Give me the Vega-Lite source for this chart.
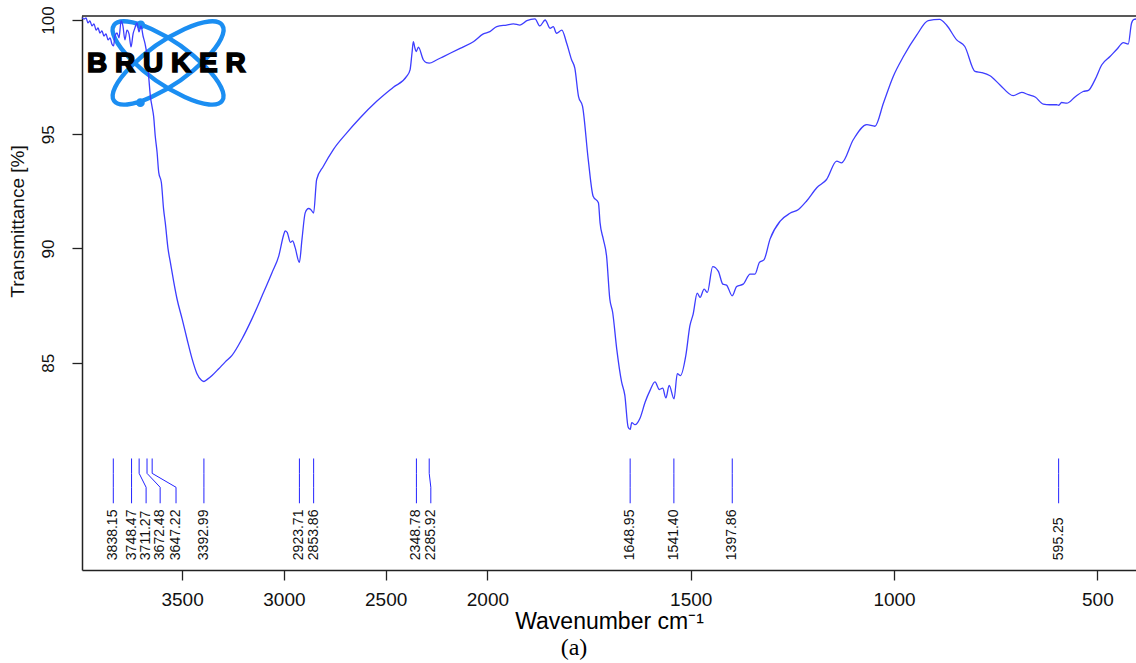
{
  "$schema": "https://vega.github.io/schema/vega-lite/v6.json",
  "width": 1054,
  "height": 554,
  "autosize": {"type": "none"},
  "padding": {"left": 82, "top": 16, "right": 0, "bottom": 93},
  "background": "white",
  "config": {"view": {"stroke": null}, "font": "Liberation Sans"},
  "title": {"text": "(a)", "orient": "bottom", "anchor": "middle", "dx": -35, "offset": 3, "font": "Liberation Serif", "fontSize": 24, "fontWeight": "normal", "color": "#000000"},
  "datasets": {
    "spectrum": [
      {"wn": 3992, "t": 100.1}, {"wn": 3982, "t": 100.04}, {"wn": 3972, "t": 100.09}, {"wn": 3963, "t": 99.87},
      {"wn": 3953, "t": 99.96}, {"wn": 3943, "t": 99.74}, {"wn": 3933, "t": 99.83}, {"wn": 3923, "t": 99.56},
      {"wn": 3913, "t": 99.65}, {"wn": 3904, "t": 99.43}, {"wn": 3894, "t": 99.52}, {"wn": 3884, "t": 99.3},
      {"wn": 3874, "t": 99.39}, {"wn": 3864, "t": 99.13}, {"wn": 3854, "t": 99.22}, {"wn": 3845, "t": 98.95},
      {"wn": 3837, "t": 98.87}, {"wn": 3830, "t": 99.3}, {"wn": 3820, "t": 99.43}, {"wn": 3810, "t": 99.22},
      {"wn": 3800, "t": 99.96}, {"wn": 3791, "t": 99.74}, {"wn": 3781, "t": 99.13}, {"wn": 3771, "t": 99.56},
      {"wn": 3761, "t": 99.39}, {"wn": 3751, "t": 98.82}, {"wn": 3741, "t": 99.39}, {"wn": 3732, "t": 99.65},
      {"wn": 3722, "t": 99.87}, {"wn": 3712, "t": 99.48}, {"wn": 3702, "t": 99.74}, {"wn": 3692, "t": 99.3},
      {"wn": 3682, "t": 98.95}, {"wn": 3673, "t": 98.47}, {"wn": 3663, "t": 97.38}, {"wn": 3656, "t": 96.66},
      {"wn": 3648, "t": 96.22}, {"wn": 3640, "t": 95.78}, {"wn": 3632, "t": 94.91}, {"wn": 3623, "t": 94.2},
      {"wn": 3615, "t": 93.33}, {"wn": 3602, "t": 92.89}, {"wn": 3591, "t": 91.71}, {"wn": 3583, "t": 91.14},
      {"wn": 3569, "t": 89.97}, {"wn": 3558, "t": 89.4}, {"wn": 3541, "t": 88.53}, {"wn": 3525, "t": 87.79},
      {"wn": 3500, "t": 86.92}, {"wn": 3476, "t": 86.04}, {"wn": 3451, "t": 85.17}, {"wn": 3427, "t": 84.52},
      {"wn": 3405, "t": 84.23}, {"wn": 3393, "t": 84.18}, {"wn": 3378, "t": 84.26}, {"wn": 3353, "t": 84.44},
      {"wn": 3320, "t": 84.74}, {"wn": 3288, "t": 85.04}, {"wn": 3255, "t": 85.32}, {"wn": 3206, "t": 86.04},
      {"wn": 3157, "t": 86.92}, {"wn": 3107, "t": 87.93}, {"wn": 3058, "t": 88.95}, {"wn": 3025, "t": 89.68},
      {"wn": 3001, "t": 90.6}, {"wn": 2994, "t": 90.77}, {"wn": 2984, "t": 90.71}, {"wn": 2968, "t": 90.27},
      {"wn": 2957, "t": 90.33}, {"wn": 2945, "t": 90.05}, {"wn": 2924, "t": 89.39}, {"wn": 2911, "t": 90.41},
      {"wn": 2895, "t": 91.57}, {"wn": 2879, "t": 91.75}, {"wn": 2867, "t": 91.7}, {"wn": 2854, "t": 91.55},
      {"wn": 2839, "t": 93.02}, {"wn": 2806, "t": 93.6}, {"wn": 2757, "t": 94.33}, {"wn": 2691, "t": 95.06},
      {"wn": 2626, "t": 95.71}, {"wn": 2544, "t": 96.44}, {"wn": 2462, "t": 97.06}, {"wn": 2397, "t": 97.53},
      {"wn": 2380, "t": 97.82}, {"wn": 2370, "t": 98.6}, {"wn": 2364, "t": 99.05}, {"wn": 2357, "t": 98.8},
      {"wn": 2350, "t": 98.62}, {"wn": 2339, "t": 98.81}, {"wn": 2315, "t": 98.26}, {"wn": 2300, "t": 98.13},
      {"wn": 2286, "t": 98.11}, {"wn": 2250, "t": 98.25}, {"wn": 2216, "t": 98.4}, {"wn": 2134, "t": 98.76},
      {"wn": 2069, "t": 99.05}, {"wn": 2020, "t": 99.39}, {"wn": 1994, "t": 99.49}, {"wn": 1977, "t": 99.71},
      {"wn": 1953, "t": 99.78}, {"wn": 1936, "t": 99.83}, {"wn": 1920, "t": 99.78}, {"wn": 1903, "t": 99.97},
      {"wn": 1883, "t": 100.05}, {"wn": 1871, "t": 99.74}, {"wn": 1858, "t": 100.0}, {"wn": 1846, "t": 99.64},
      {"wn": 1838, "t": 99.71}, {"wn": 1830, "t": 99.42}, {"wn": 1817, "t": 99.56}, {"wn": 1805, "t": 98.98},
      {"wn": 1793, "t": 98.26}, {"wn": 1785, "t": 97.89}, {"wn": 1776, "t": 96.66}, {"wn": 1766, "t": 96.22},
      {"wn": 1752, "t": 93.89}, {"wn": 1740, "t": 92.29}, {"wn": 1727, "t": 92.0}, {"wn": 1723, "t": 91.13},
      {"wn": 1715, "t": 90.41}, {"wn": 1707, "t": 89.68}, {"wn": 1699, "t": 87.79}, {"wn": 1692, "t": 87.21},
      {"wn": 1682, "t": 85.61}, {"wn": 1670, "t": 84.16}, {"wn": 1662, "t": 83.57}, {"wn": 1654, "t": 82.19},
      {"wn": 1649, "t": 82.08}, {"wn": 1645, "t": 82.38}, {"wn": 1637, "t": 82.29}, {"wn": 1625, "t": 82.56},
      {"wn": 1612, "t": 83.28}, {"wn": 1600, "t": 83.79}, {"wn": 1588, "t": 84.16}, {"wn": 1577, "t": 83.83},
      {"wn": 1569, "t": 83.89}, {"wn": 1561, "t": 83.46}, {"wn": 1553, "t": 84.01}, {"wn": 1541, "t": 83.42},
      {"wn": 1533, "t": 84.52}, {"wn": 1525, "t": 84.44}, {"wn": 1512, "t": 85.32}, {"wn": 1502, "t": 86.62},
      {"wn": 1494, "t": 87.13}, {"wn": 1484, "t": 88.05}, {"wn": 1477, "t": 87.86}, {"wn": 1467, "t": 88.22},
      {"wn": 1459, "t": 88.08}, {"wn": 1446, "t": 89.21}, {"wn": 1432, "t": 89.0}, {"wn": 1421, "t": 88.44},
      {"wn": 1412, "t": 88.4}, {"wn": 1398, "t": 87.93}, {"wn": 1387, "t": 88.34}, {"wn": 1371, "t": 88.44},
      {"wn": 1354, "t": 88.88}, {"wn": 1342, "t": 88.88}, {"wn": 1331, "t": 89.39}, {"wn": 1320, "t": 89.5},
      {"wn": 1305, "t": 90.41}, {"wn": 1280, "t": 91.2}, {"wn": 1256, "t": 91.54}, {"wn": 1235, "t": 91.71},
      {"wn": 1215, "t": 92.08}, {"wn": 1190, "t": 92.66}, {"wn": 1166, "t": 93.02}, {"wn": 1141, "t": 93.82},
      {"wn": 1129, "t": 93.75}, {"wn": 1100, "t": 94.77}, {"wn": 1067, "t": 95.42}, {"wn": 1047, "t": 95.35},
      {"wn": 1026, "t": 96.37}, {"wn": 1002, "t": 97.53}, {"wn": 977, "t": 98.4}, {"wn": 944, "t": 99.35},
      {"wn": 916, "t": 99.97}, {"wn": 888, "t": 100.03}, {"wn": 871, "t": 99.78}, {"wn": 846, "t": 99.13},
      {"wn": 826, "t": 98.84}, {"wn": 801, "t": 97.75}, {"wn": 785, "t": 97.7}, {"wn": 764, "t": 97.56},
      {"wn": 740, "t": 97.17}, {"wn": 707, "t": 96.69}, {"wn": 686, "t": 96.83}, {"wn": 670, "t": 96.73},
      {"wn": 653, "t": 96.63}, {"wn": 633, "t": 96.32}, {"wn": 617, "t": 96.29}, {"wn": 600, "t": 96.29},
      {"wn": 595, "t": 96.27}, {"wn": 588, "t": 96.39}, {"wn": 575, "t": 96.36}, {"wn": 555, "t": 96.63},
      {"wn": 535, "t": 96.87}, {"wn": 522, "t": 96.92}, {"wn": 506, "t": 97.38}, {"wn": 489, "t": 98.04},
      {"wn": 469, "t": 98.4}, {"wn": 452, "t": 98.72}, {"wn": 436, "t": 99.01}, {"wn": 424, "t": 98.95},
      {"wn": 416, "t": 99.86}, {"wn": 410, "t": 100.03}, {"wn": 400, "t": 100.05}
    ],
    "peaks": [
      {"wn": 3838.15, "labelWn": 3838.15},
      {"wn": 3748.47, "labelWn": 3748.47},
      {"wn": 3711.27, "labelWn": 3677},
      {"wn": 3672.48, "labelWn": 3608},
      {"wn": 3647.22, "labelWn": 3530},
      {"wn": 3392.99, "labelWn": 3392.99},
      {"wn": 2923.71, "labelWn": 2923.71},
      {"wn": 2853.86, "labelWn": 2853.86},
      {"wn": 2348.78, "labelWn": 2348.78},
      {"wn": 2285.92, "labelWn": 2278},
      {"wn": 1648.95, "labelWn": 1648.95},
      {"wn": 1541.40, "labelWn": 1541.40},
      {"wn": 1397.86, "labelWn": 1397.86},
      {"wn": 595.25, "labelWn": 595.25}
    ]
  },
  "layer": [
    {
      "data": {"values": [{"ring": "A"}, {"ring": "B"}]},
      "mark": {"type": "point", "filled": false, "size": 4, "strokeWidth": 4.4, "color": "#1b8ef2", "opacity": 1},
      "encoding": {
        "x": {"datum": 3569},
        "y": {"datum": 98.12},
        "shape": {
          "field": "ring",
          "type": "nominal",
          "legend": null,
          "scale": {
            "domain": ["A", "B"],
            "range": [
              "M -54.06 -37.86 A 66 21 35 1 1 54.06 37.86 A 66 21 35 1 1 -54.06 -37.86 Z M -29.5 -38 A 2.2 2.2 0 1 1 -25.1 -38 A 2.2 2.2 0 1 1 -29.5 -38 Z",
              "M -54.06 37.86 A 66 21 -35 1 1 54.06 -37.86 A 66 21 -35 1 1 -54.06 37.86 Z M -29.9 39.7 A 2.2 2.2 0 1 1 -25.5 39.7 A 2.2 2.2 0 1 1 -29.9 39.7 Z"
            ]
          }
        }
      }
    },
    {
      "data": {"name": "spectrum"},
      "mark": {"type": "line", "color": "#3d3dff", "strokeWidth": 1.3, "interpolate": "monotone", "clip": true},
      "encoding": {
        "x": {
          "field": "wn",
          "type": "quantitative",
          "scale": {"domain": [3992, 2000, 405], "range": [0, 405.4, 1054], "nice": false, "zero": false},
          "axis": {
            "title": "Wavenumber cm⁻¹",
            "values": [3500, 3000, 2500, 2000, 1500, 1000, 500],
            "format": "d",
            "grid": false,
            "labelOverlap": false,
            "labelFlush": false,
            "tickSize": 10,
            "tickColor": "#222222",
            "domainColor": "#222222",
            "domainWidth": 1.5,
            "tickWidth": 1.3,
            "labelFontSize": 19,
            "labelColor": "#111111",
            "labelPadding": 10,
            "titleFontSize": 23,
            "titleFontWeight": "normal",
            "titleColor": "#000000",
            "titlePadding": 1
          }
        },
        "y": {
          "field": "t",
          "type": "quantitative",
          "scale": {"domain": [75.93, 100.175], "nice": false, "zero": false},
          "axis": {
            "title": "Transmittance [%]",
            "values": [85, 90, 95, 100],
            "grid": false,
            "labelAngle": 270,
            "labelAlign": "center",
            "labelBaseline": "bottom",
            "tickSize": 10,
            "tickColor": "#222222",
            "domainColor": "#222222",
            "domainWidth": 1.5,
            "tickWidth": 1.3,
            "labelFontSize": 17,
            "labelColor": "#111111",
            "labelPadding": 15,
            "titleFontSize": 19,
            "titleFontWeight": "normal",
            "titleColor": "#111111",
            "titlePadding": 12,
            "titleY": 205
          }
        }
      }
    },
    {
      "data": {"values": [{"brand": "B R U K E R"}]},
      "mark": {"type": "text", "font": "Liberation Sans", "fontWeight": "bold", "fontSize": 28, "color": "#000000", "stroke": "#000000", "strokeWidth": 1.6, "align": "center", "baseline": "middle"},
      "encoding": {
        "x": {"datum": 3577},
        "y": {"datum": 98.08},
        "text": {"field": "brand"}
      }
    },
    {
      "data": {"values": [{"edge": "top"}]},
      "mark": {"type": "rule", "color": "#222222", "strokeWidth": 1.5},
      "encoding": {"y": {"datum": 100.175}}
    },
    {
      "data": {"name": "peaks"},
      "mark": {"type": "rule", "color": "#2323ff", "strokeWidth": 1},
      "encoding": {
        "x": {"field": "wn", "type": "quantitative"},
        "y": {"datum": 80.81},
        "y2": {"datum": 80.16}
      }
    },
    {
      "data": {"name": "peaks"},
      "mark": {"type": "rule", "color": "#2323ff", "strokeWidth": 1},
      "encoding": {
        "x": {"field": "wn", "type": "quantitative"},
        "x2": {"field": "labelWn"},
        "y": {"datum": 80.16},
        "y2": {"datum": 79.55}
      }
    },
    {
      "data": {"name": "peaks"},
      "mark": {"type": "rule", "color": "#2323ff", "strokeWidth": 1},
      "encoding": {
        "x": {"field": "labelWn", "type": "quantitative"},
        "y": {"datum": 79.55},
        "y2": {"datum": 78.85}
      }
    },
    {
      "data": {"name": "peaks"},
      "mark": {"type": "text", "angle": 270, "align": "left", "baseline": "middle", "fontSize": 14, "font": "Liberation Sans", "color": "#111111"},
      "encoding": {
        "x": {"field": "labelWn", "type": "quantitative"},
        "y": {"datum": 76.36},
        "text": {"field": "wn", "type": "quantitative", "format": ".2f"}
      }
    }
  ]
}
